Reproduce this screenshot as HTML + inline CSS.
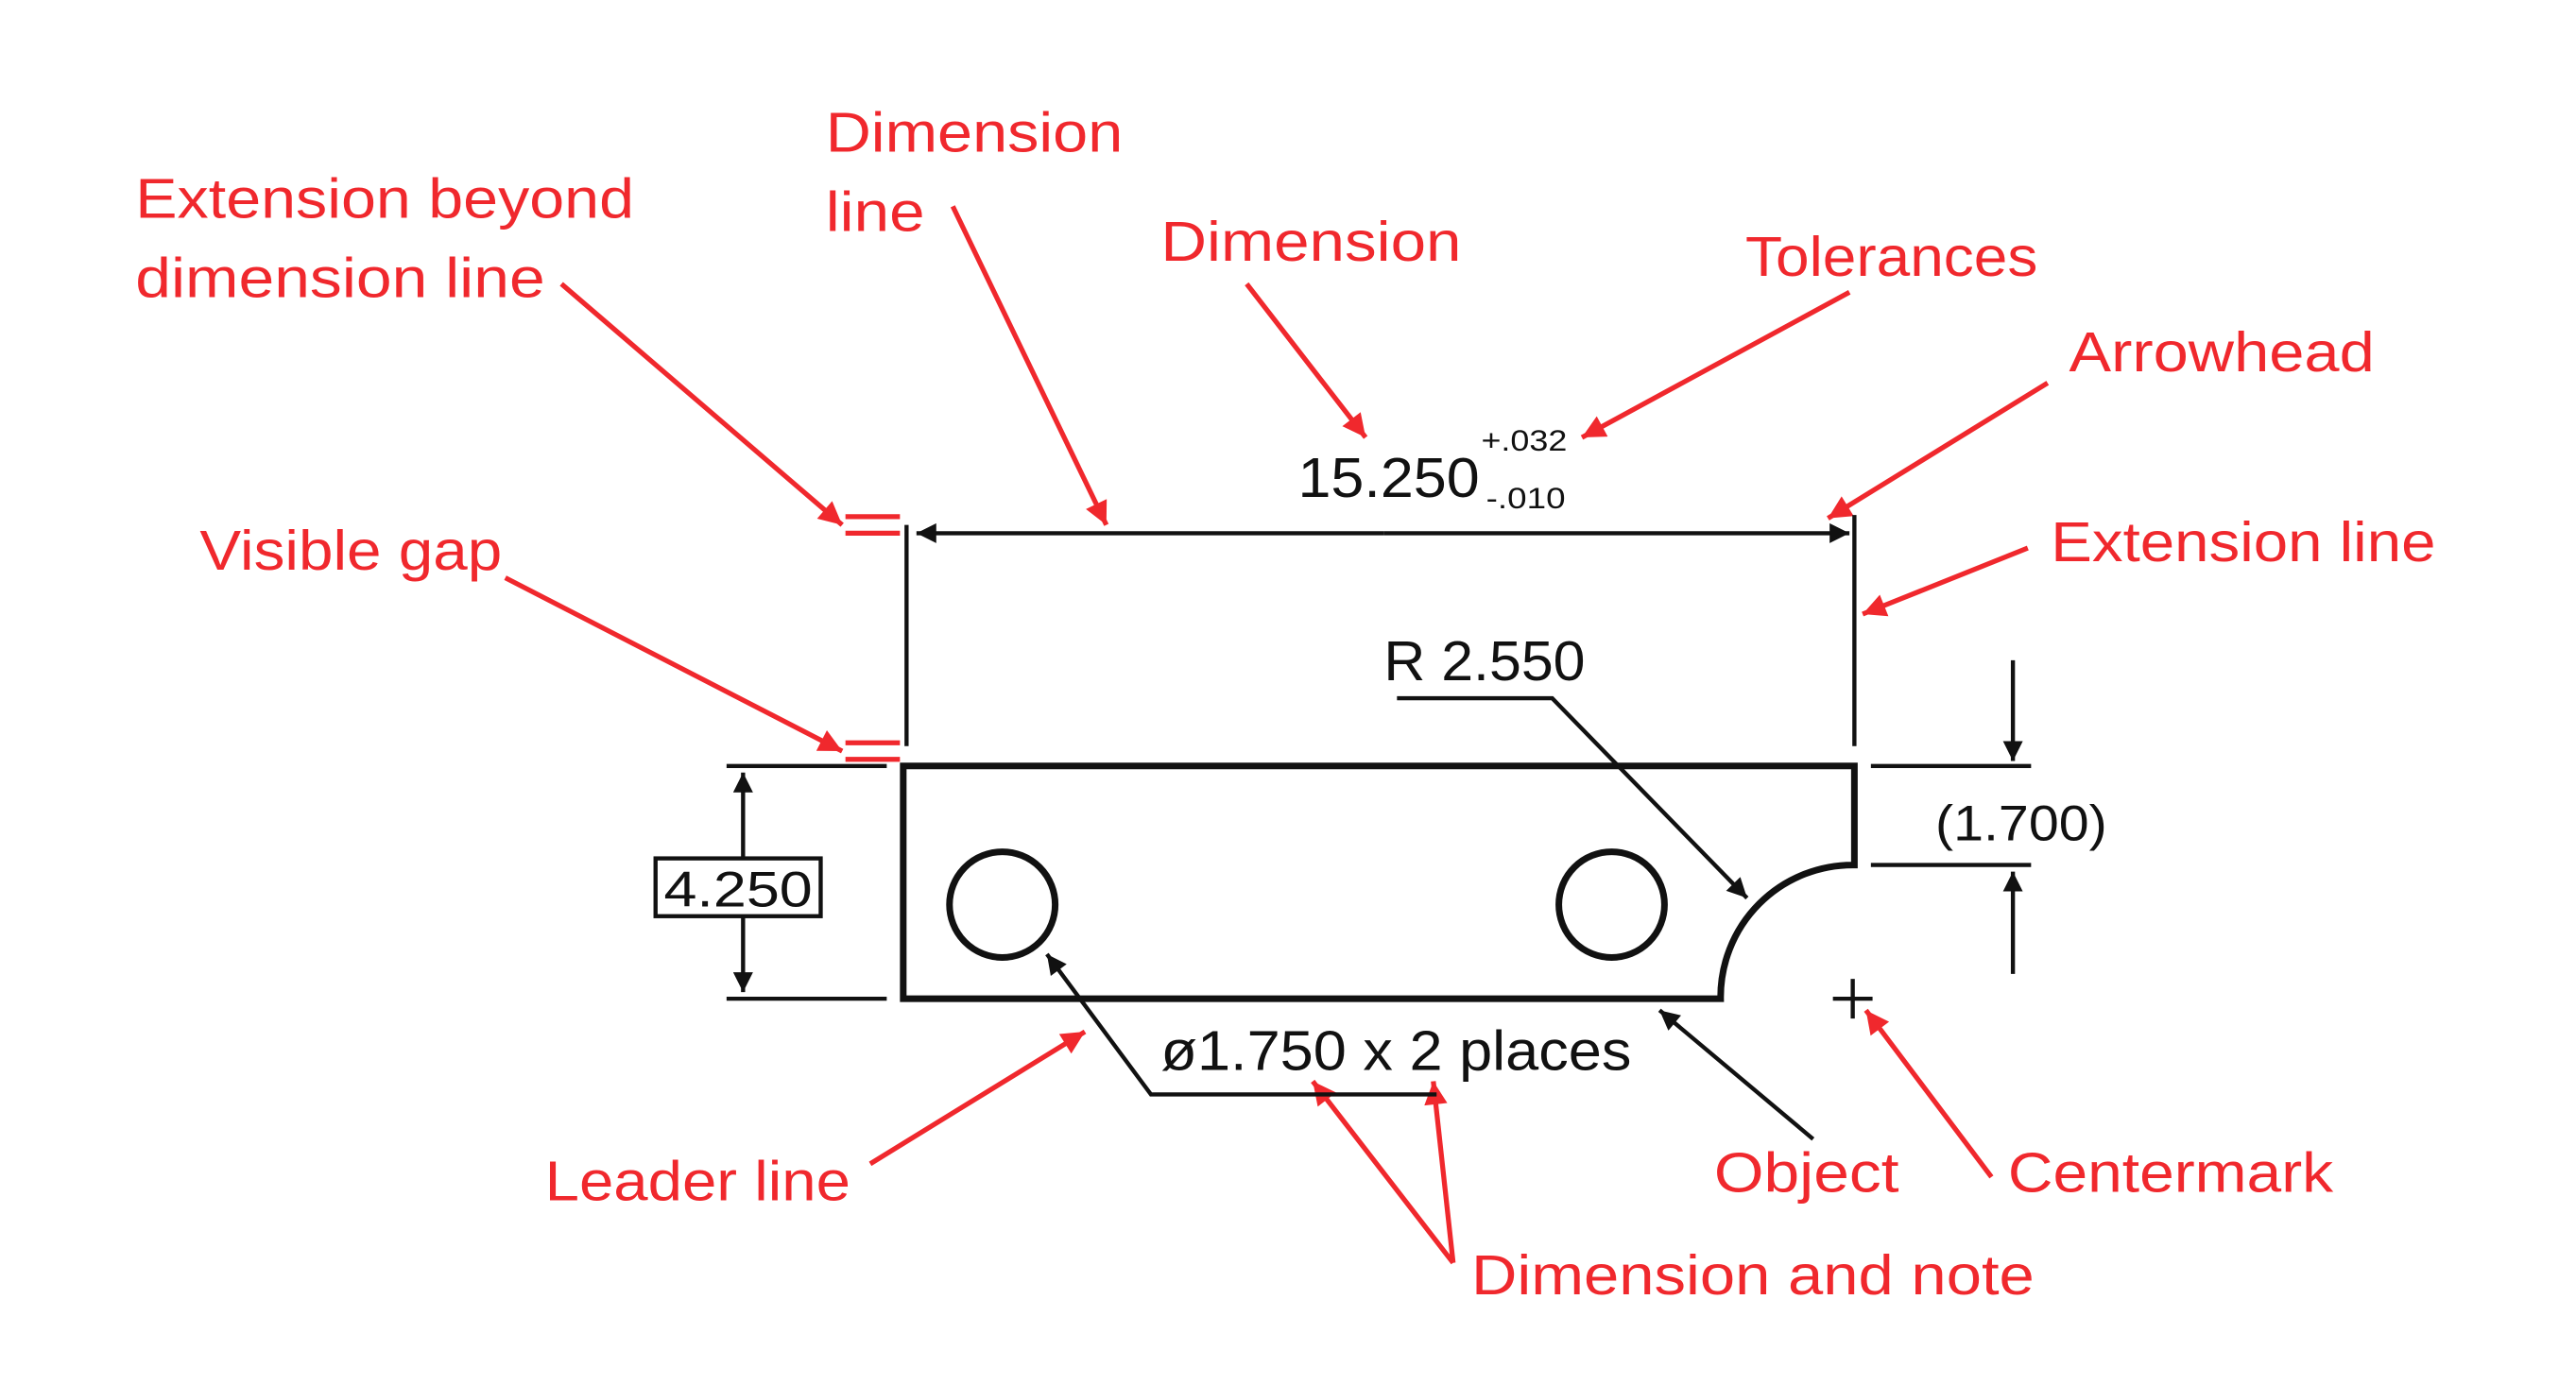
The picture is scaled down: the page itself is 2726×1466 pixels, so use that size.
<!DOCTYPE html>
<html><head><meta charset="utf-8"><style>html,body{margin:0;padding:0;background:#fff}svg{display:block}</style></head>
<body>
<svg width="2726" height="1466" viewBox="0 0 1560 839" preserveAspectRatio="none" xmlns="http://www.w3.org/2000/svg">
<defs>
<marker id="r" viewBox="0 0 10 10" refX="10" refY="5" markerWidth="24" markerHeight="14" markerUnits="userSpaceOnUse" orient="auto"><path d="M0,0L10,5L0,10z" fill="#f0282d"/></marker>
<marker id="b" viewBox="0 0 10 10" refX="10" refY="5" markerWidth="26" markerHeight="12" markerUnits="userSpaceOnUse" orient="auto"><path d="M0,0L10,5L0,10z" fill="#111"/></marker>
</defs>
<g font-family="Liberation Sans, sans-serif" fill="#f0282d" font-size="34">
<text x="500" y="92" textLength="180" lengthAdjust="spacingAndGlyphs">Dimension</text>
<text x="500" y="140" textLength="60" lengthAdjust="spacingAndGlyphs">line</text>
<text x="82" y="132" textLength="302" lengthAdjust="spacingAndGlyphs">Extension beyond</text>
<text x="82" y="180" textLength="248" lengthAdjust="spacingAndGlyphs">dimension line</text>
<text x="703" y="158" textLength="182" lengthAdjust="spacingAndGlyphs">Dimension</text>
<text x="1057" y="167" textLength="177" lengthAdjust="spacingAndGlyphs">Tolerances</text>
<text x="1253" y="225" textLength="185" lengthAdjust="spacingAndGlyphs">Arrowhead</text>
<text x="1242" y="340" textLength="233" lengthAdjust="spacingAndGlyphs">Extension line</text>
<text x="121" y="345" textLength="183" lengthAdjust="spacingAndGlyphs">Visible gap</text>
<text x="330" y="727" textLength="185" lengthAdjust="spacingAndGlyphs">Leader line</text>
<text x="1038" y="722" textLength="112" lengthAdjust="spacingAndGlyphs">Object</text>
<text x="1216" y="722" textLength="197" lengthAdjust="spacingAndGlyphs">Centermark</text>
<text x="891" y="784" textLength="341" lengthAdjust="spacingAndGlyphs">Dimension and note</text>
</g>
<g stroke="#f0282d" stroke-width="3" fill="none" marker-end="url(#r)">
<line x1="340" y1="172" x2="510" y2="318"/>
<line x1="577" y1="125" x2="670" y2="318"/>
<line x1="755" y1="172" x2="827" y2="265"/>
<line x1="1120" y1="177" x2="958" y2="265"/>
<line x1="1240" y1="232" x2="1107" y2="314"/>
<line x1="1228" y1="332" x2="1128" y2="372"/>
<line x1="306" y1="350" x2="510" y2="455"/>
<line x1="527" y1="705" x2="657" y2="625"/>
<line x1="1206" y1="713" x2="1130" y2="612"/>
<line x1="880" y1="765" x2="795" y2="655"/>
<line x1="880" y1="765" x2="868" y2="655"/>
</g>
<g stroke="#f0282d" stroke-width="3">
<line x1="512" y1="313" x2="545" y2="313"/><line x1="512" y1="323" x2="545" y2="323"/>
<line x1="512" y1="450" x2="545" y2="450"/><line x1="512" y1="460" x2="545" y2="460"/>
</g>
<g fill="#111" font-family="Liberation Sans, sans-serif">
<text x="786" y="301" font-size="34" textLength="110" lengthAdjust="spacingAndGlyphs">15.250</text>
<text x="897" y="273" font-size="18" textLength="52" lengthAdjust="spacingAndGlyphs">+.032</text>
<text x="900" y="308" font-size="18" textLength="48" lengthAdjust="spacingAndGlyphs">-.010</text>
<text x="838" y="412" font-size="34" textLength="122" lengthAdjust="spacingAndGlyphs">R 2.550</text>
<text x="1172" y="509" font-size="30" textLength="104" lengthAdjust="spacingAndGlyphs">(1.700)</text>
<text x="402" y="549" font-size="30" textLength="90" lengthAdjust="spacingAndGlyphs">4.250</text>
<text x="703" y="648" font-size="34" textLength="285" lengthAdjust="spacingAndGlyphs">ø1.750 x 2 places</text>
</g>
<g stroke="#111" fill="none">
<path d="M547,464H1123V524A80,80 0 0 0 1042,605H547Z" stroke-width="4"/>
<circle cx="607" cy="548" r="32" stroke-width="4"/>
<circle cx="976" cy="548" r="32" stroke-width="4"/>
<g stroke-width="2.5">
<line x1="549" y1="318" x2="549" y2="452"/>
<line x1="1123" y1="312" x2="1123" y2="452"/>
<line x1="440" y1="464" x2="537" y2="464"/>
<line x1="440" y1="605" x2="537" y2="605"/>
<line x1="1133" y1="464" x2="1230" y2="464"/>
<line x1="1133" y1="524" x2="1230" y2="524"/>
<line x1="1110" y1="605" x2="1134" y2="605"/>
<line x1="1122" y1="593" x2="1122" y2="617"/>
<rect x="397" y="520" width="100" height="35"/>
</g>
<g stroke-width="2.5" marker-end="url(#b)">
<line x1="838" y1="323" x2="555" y2="323"/>
<line x1="838" y1="323" x2="1120" y2="323"/>
<line x1="450" y1="520" x2="450" y2="468"/>
<line x1="450" y1="555" x2="450" y2="601"/>
<line x1="1219" y1="400" x2="1219" y2="461"/>
<line x1="1219" y1="590" x2="1219" y2="528"/>
<polyline points="846,423 940,423 1058,544"/>
<polyline points="870,663 697,663 634,578"/>
<line x1="1098" y1="690" x2="1005" y2="612"/>
</g>
</g>
</svg>
</body></html>
